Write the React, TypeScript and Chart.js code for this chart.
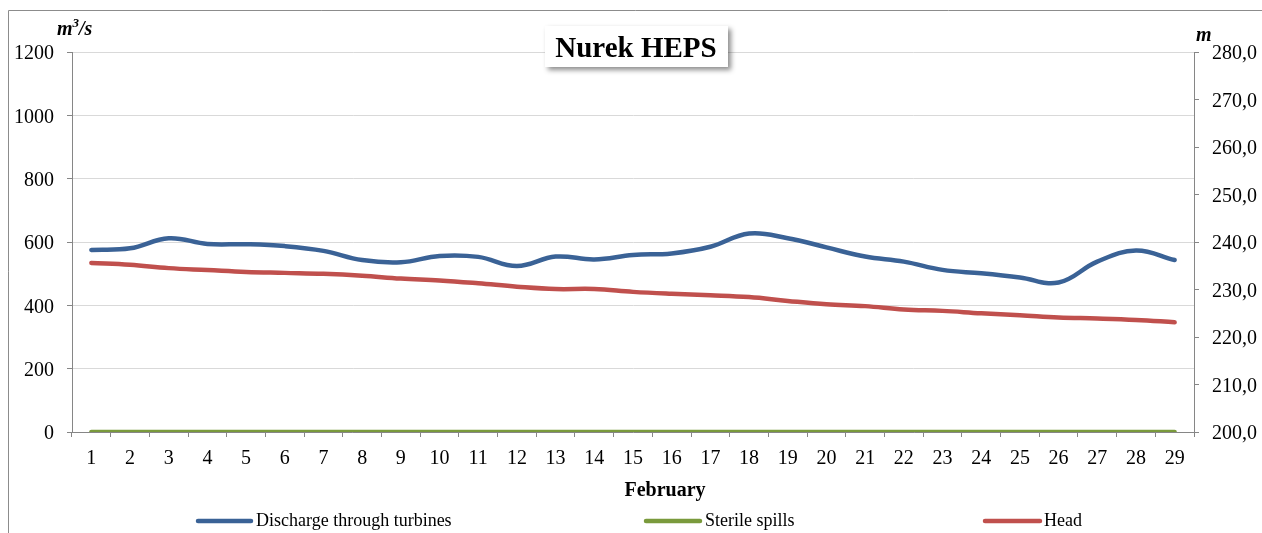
import React, { useEffect, useRef } from "react";
import { Chart, registerables } from "chart.js";

Chart.register(...registerables);

const days: string[] = ["1","2","3","4","5","6","7","8","9","10","11","12","13","14","15","16","17","18","19","20","21","22","23","24","25","26","27","28","29"];
const discharge: number[] = [575,580,612,594,593,587,572,543,536,556,553,524,554,545,559,564,585,627,612,583,554,538,512,501,488,472,538,573,543];
const sterileSpills: number[] = [0,0,0,0,0,0,0,0,0,0,0,0,0,0,0,0,0,0,0,0,0,0,0,0,0,0,0,0,0];
const head: number[] = [235.6,235.2,234.5,234.1,233.7,233.5,233.3,232.9,232.3,231.9,231.3,230.6,230.1,230.1,229.5,229.1,228.8,228.4,227.6,226.9,226.5,225.8,225.5,225.0,224.6,224.1,223.9,223.6,223.1];
const seriesNames: string[] = ["Discharge through turbines", "Sterile spills", "Head"];
const seriesColors: string[] = ["#3A6296", "#7A9A3C", "#C0504D"];
const titleText = "Nurek HEPS";
const xTitle = "February";

const SERIF = "'Liberation Serif', 'Times New Roman', serif";

export default function App() {
  const ref = useRef<HTMLCanvasElement | null>(null);
  useEffect(() => {
    const canvas = ref.current!;
    const overlay = {
      id: "overlay",
      afterDraw(chart: any) {
        const ctx = chart.ctx as CanvasRenderingContext2D;
        const W = chart.width, H = chart.height;
        ctx.save();
        // frame
        ctx.strokeStyle = "#8c8c8c";
        ctx.lineWidth = 1;
        ctx.beginPath();
        ctx.moveTo(8.5, H);
        ctx.lineTo(8.5, 10.5);
        ctx.lineTo(W, 10.5);
        ctx.stroke();
        // title box
        ctx.save();
        ctx.shadowColor = "rgba(0,0,0,0.45)";
        ctx.shadowBlur = 5;
        ctx.shadowOffsetX = 3;
        ctx.shadowOffsetY = 3;
        ctx.fillStyle = "#fff";
        ctx.fillRect(545, 26, 183, 41);
        ctx.restore();
        ctx.fillStyle = "#000";
        ctx.font = `bold 29px ${SERIF}`;
        ctx.textAlign = "center";
        ctx.textBaseline = "alphabetic";
        ctx.fillText(titleText, 636, 57);
        // x title
        ctx.font = `bold 20px ${SERIF}`;
        ctx.fillText(xTitle, 665, 496);
        // left unit m3/s
        ctx.textAlign = "left";
        ctx.font = `italic bold 20px ${SERIF}`;
        let x = 57;
        ctx.fillText("m", x, 35);
        x += ctx.measureText("m").width;
        ctx.font = `italic bold 13px ${SERIF}`;
        ctx.fillText("3", x, 27);
        x += ctx.measureText("3").width;
        ctx.font = `italic bold 20px ${SERIF}`;
        ctx.fillText("/s", x, 35);
        // right unit m
        ctx.fillText("m", 1196, 41);
        // legend
        const legendLines = [[198, 251, 256], [646, 700, 705], [985, 1040, 1044]];
        ctx.font = `18px ${SERIF}`;
        ctx.textBaseline = "middle";
        legendLines.forEach((l, i) => {
          ctx.strokeStyle = seriesColors[i];
          ctx.lineWidth = 4.5;
          ctx.lineCap = "round";
          ctx.beginPath();
          ctx.moveTo(l[0], 521);
          ctx.lineTo(l[1], 521);
          ctx.stroke();
          ctx.fillStyle = "#000";
          ctx.fillText(seriesNames[i], l[2], 521);
        });
        ctx.restore();
      },
    };
    const chart = new Chart(canvas, {
      type: "line",
      data: {
        labels: days,
        datasets: [
          { label: seriesNames[0], data: discharge, yAxisID: "y", borderColor: seriesColors[0], backgroundColor: seriesColors[0], borderWidth: 4.5, pointRadius: 0, tension: 0.4, borderCapStyle: "round" },
          { label: seriesNames[1], data: sterileSpills, yAxisID: "y", borderColor: seriesColors[1], backgroundColor: seriesColors[1], borderWidth: 4.5, pointRadius: 0, tension: 0.4, borderCapStyle: "round" },
          { label: seriesNames[2], data: head, yAxisID: "y1", borderColor: seriesColors[2], backgroundColor: seriesColors[2], borderWidth: 4.5, pointRadius: 0, tension: 0.4, borderCapStyle: "round" },
        ],
      },
      options: {
        responsive: false,
        animation: false,
        devicePixelRatio: 1,
        layout: { padding: { top: 52, left: 0, right: 0, bottom: 0 } },
        plugins: { legend: { display: false }, tooltip: { enabled: false }, title: { display: false } },
        scales: {
          x: {
            type: "category",
            offset: true,
            grid: { offset: true, drawOnChartArea: false, drawTicks: true, tickLength: 5, color: "#868686", lineWidth: 1 },
            border: { color: "#868686", width: 1 },
            ticks: { color: "#000", font: { family: SERIF, size: 20 }, padding: 10, maxRotation: 0, autoSkip: false },
            afterFit: (s: any) => { s.height = 101; },
          },
          y: {
            position: "left",
            min: 0,
            max: 1200,
            grid: { color: "#d9d9d9", tickColor: "#868686", tickLength: 5, lineWidth: 1 },
            border: { color: "#868686", width: 1 },
            ticks: { stepSize: 200, color: "#000", font: { family: SERIF, size: 20 }, padding: 13, labelOffset: 2, callback: (v: any) => String(v) },
            afterFit: (s: any) => { s.width = 72; },
          },
          y1: {
            position: "right",
            min: 200,
            max: 280,
            grid: { drawOnChartArea: false, tickColor: "#868686", tickLength: 5, color: "#868686" },
            border: { color: "#868686", width: 1 },
            ticks: { stepSize: 10, color: "#000", font: { family: SERIF, size: 20 }, padding: 13, labelOffset: 2, callback: (v: any) => Number(v).toFixed(1).replace(".", ",") },
            afterFit: (s: any) => { s.width = 68; },
          },
        },
      } as any,
      plugins: [overlay],
    });
    return () => chart.destroy();
  }, []);
  return (
    <div style={{ position: "fixed", left: 0, top: 0, width: 1262, height: 533, background: "#fff" }}>
      <canvas ref={ref} width={1262} height={533} style={{ width: 1262, height: 533, display: "block" }} />
    </div>
  );
}
